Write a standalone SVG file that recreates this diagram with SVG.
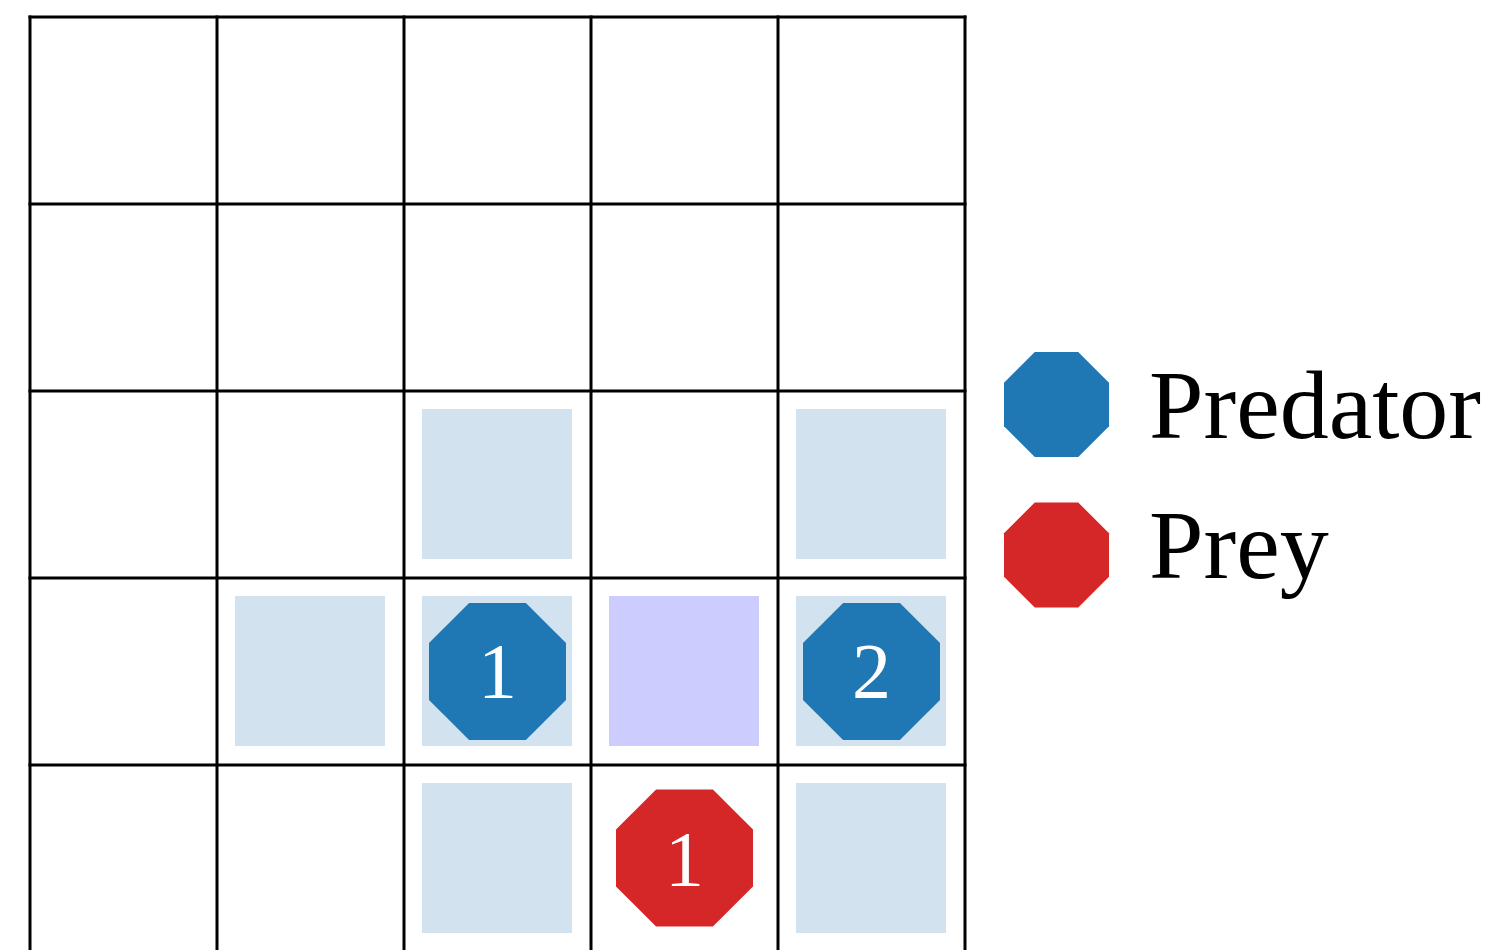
<svg xmlns="http://www.w3.org/2000/svg" width="1496" height="950" viewBox="0 0 1496 950">
<style>
.hl{fill:#d2e3ef}
.sel{fill:#ccccff}
.grid{stroke:#000;stroke-width:3;fill:none;stroke-linecap:square}
.pred{fill:#1f77b4}
.prey{fill:#d62728}
.num{font-family:"Liberation Serif","Times New Roman",serif;font-size:78px;fill:#fff;text-anchor:middle}
.leg{font-family:"Liberation Serif","Times New Roman",serif;font-size:98px;fill:#000}
</style>
<defs>
<polygon id="oct" points="28.4,-68.5 68.5,-28.4 68.5,28.4 28.4,68.5 -28.4,68.5 -68.5,28.4 -68.5,-28.4 -28.4,-68.5"/>
<polygon id="octs" points="21.75,-52.5 52.5,-21.75 52.5,21.75 21.75,52.5 -21.75,52.5 -52.5,21.75 -52.5,-21.75 -21.75,-52.5"/>
</defs>
<rect width="1496" height="950" fill="#fff"/>
<g id="highlights">
<rect class="hl" x="422" y="409" width="150" height="150"/>
<rect class="hl" x="796" y="409" width="150" height="150"/>
<rect class="hl" x="235" y="596" width="150" height="150"/>
<rect class="hl" x="422" y="596" width="150" height="150"/>
<rect class="sel" x="609" y="596" width="150" height="150"/>
<rect class="hl" x="796" y="596" width="150" height="150"/>
<rect class="hl" x="422" y="783" width="150" height="150"/>
<rect class="hl" x="796" y="783" width="150" height="150"/>
</g>
<g id="grid" class="grid">
<path d="M30,17V960M217,17V960M404,17V960M591,17V960M778,17V960M965,17V960"/>
<path d="M30,17H965M30,204H965M30,391H965M30,578H965M30,765H965"/>
</g>
<g id="predator1">
<use href="#oct" class="pred" x="497.5" y="671.5"/>
<text class="num" x="497.5" y="697">1</text>
</g>
<g id="predator2">
<use href="#oct" class="pred" x="871.5" y="671.5"/>
<text class="num" x="871.5" y="697">2</text>
</g>
<g id="prey1">
<use href="#oct" class="prey" x="684.5" y="858"/>
<text class="num" x="684.5" y="885">1</text>
</g>
<g id="legend-predator">
<use href="#octs" class="pred" x="1056.5" y="404.5"/>
<text class="leg" x="1149" y="438">Predator</text>
</g>
<g id="legend-prey">
<use href="#octs" class="prey" x="1056.5" y="555"/>
<text class="leg" x="1149" y="578">Prey</text>
</g>
</svg>
